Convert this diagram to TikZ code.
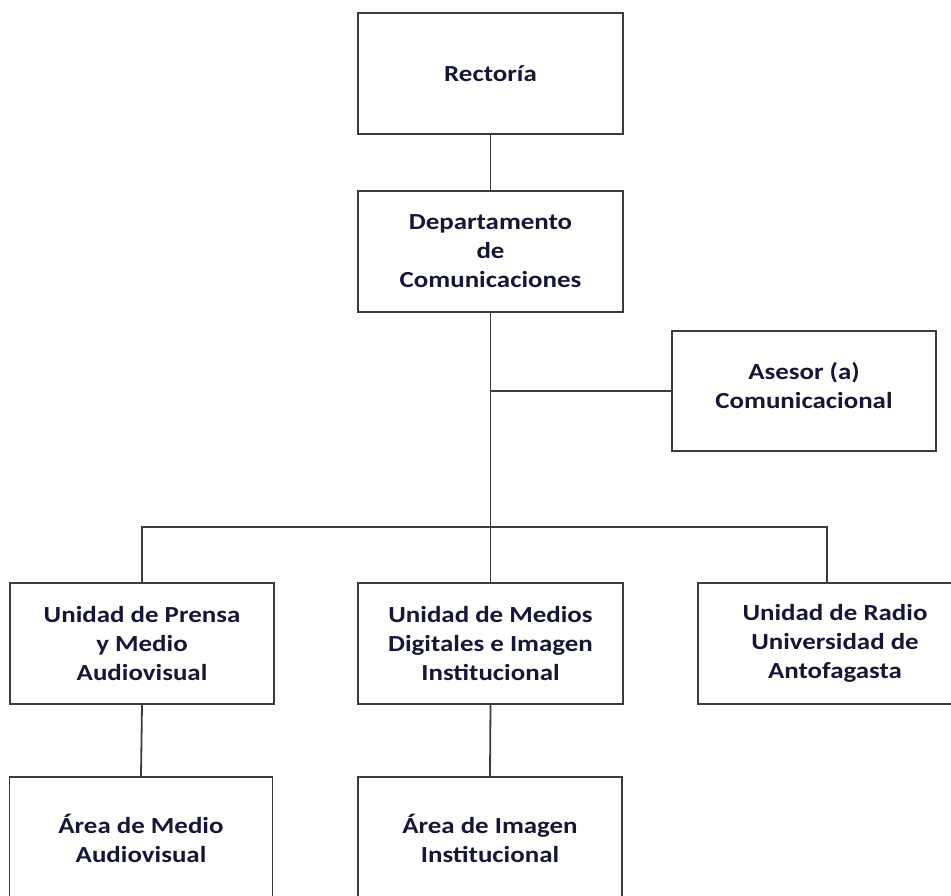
\documentclass[tikz,border=0pt]{standalone}
\usepackage{fontspec}
\setmainfont[FakeStretch=1.17]{Carlito}
\definecolor{txt}{RGB}{22,22,55}
\definecolor{ln}{RGB}{60,60,60}
\begin{document}
\begin{tikzpicture}[x=1pt,y=-1pt,
  box/.style={draw=ln,line width=1.8pt,fill=white,rectangle,inner sep=0pt,align=center,
    text=txt,font=\bfseries\fontsize{23}{29}\selectfont},
  conn/.style={draw=ln,line width=1.8pt}]
\useasboundingbox (0,0) rectangle (951,895);
\clip (0,0) rectangle (951,895);
\node[box,minimum width=265pt,minimum height=121pt] (rect) at (490.5,73.5) {Rector\'{\i}a};
\node[box,minimum width=265pt,minimum height=121pt] (dep) at (490.5,251.5) {Departamento\\de\\Comunicaciones};
\node[box,minimum width=264pt,minimum height=120pt] (ases) at (804,391) {Asesor (a)\\Comunicacional\\[-17pt]};
\node[box,minimum width=264pt,minimum height=121pt] (prensa) at (142,643.5) {Unidad de Prensa\\y Medio\\Audiovisual};
\node[box,minimum width=265pt,minimum height=121pt] (medios) at (490.5,643.5) {Unidad de Medios\\Digitales e Imagen\\Institucional};
\node[box,minimum width=274pt,minimum height=121pt] (radio) at (835,643.5) {Unidad de Radio\\Universidad de\\Antofagasta};
\node[box,minimum width=263pt,minimum height=122pt] (amedio) at (141,838) {\'Area de Medio\\Audiovisual};
\node[box,minimum width=264pt,minimum height=122pt] (aimagen) at (490,838) {\'Area de Imagen\\Institucional};
\coordinate (bus) at (0,527);
\coordinate (rc) at (827,583);
\draw[conn] (rect.south) -- (dep.north);
\draw[conn] (dep.south) -- (medios.north);
\draw[conn] (dep.south |- ases.west) -- (ases.west);
\draw[conn] (prensa.north) |- (bus -| rc) -- (rc);
\draw[conn] (prensa.south) -- (amedio.north);
\draw[conn] (medios.south) -- (aimagen.north);
\end{tikzpicture}
\end{document}
